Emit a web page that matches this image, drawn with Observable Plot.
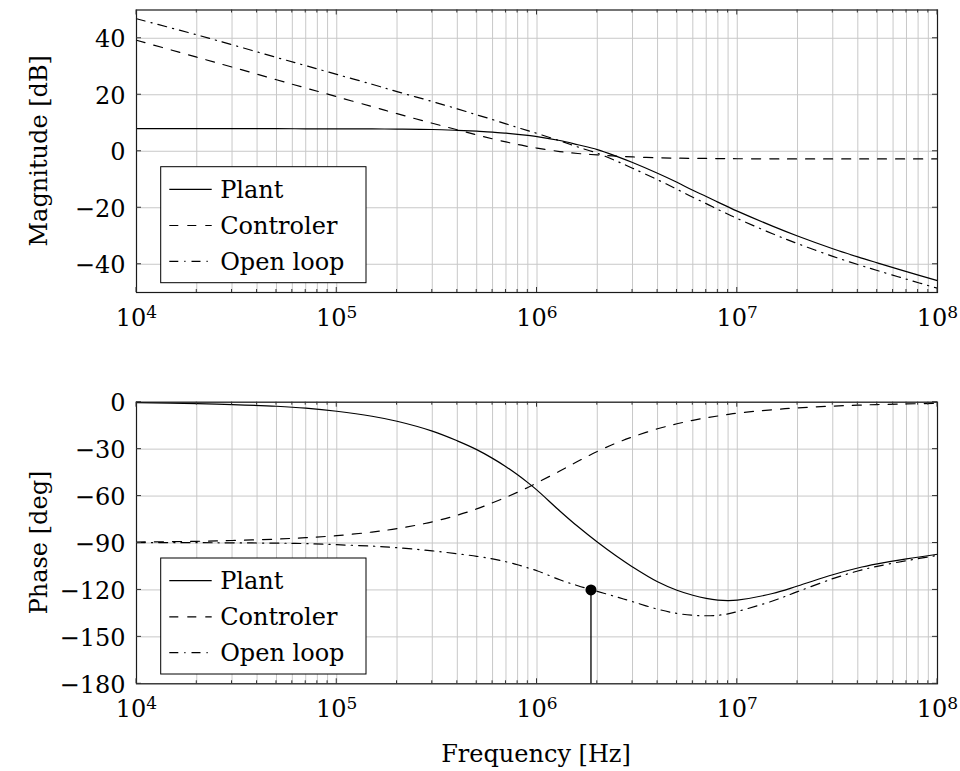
<!DOCTYPE html>
<html>
<head>
<meta charset="utf-8">
<script src="https://cdn.jsdelivr.net/npm/d3@7"></script>
<script src="https://cdn.jsdelivr.net/npm/@observablehq/plot@0.6"></script>
<style>
  body { margin: 0; background: #fff; }
  #chart { position: relative; width: 960px; height: 771px; }
  #chart svg { display: block; }
</style>
</head>
<body>
<div id="chart"></div>
<script>
// ---------- data ----------
const freq = [1e4, 2e4, 3e4, 5e4, 7e4, 1e5, 1.5e5, 2e5, 3e5, 4e5, 5e5, 6e5, 7e5, 8e5, 9e5,
  1e6, 1.3e6, 1.6e6, 2e6, 2.5e6, 3e6, 4e6, 5e6, 6e6, 7e6, 8e6, 9e6,
  1e7, 1.5e7, 2e7, 3e7, 4e7, 5e7, 7e7, 1e8];

const plantMag = [8.0, 8.0, 8.0, 8.0, 7.95, 7.95, 7.9, 7.85, 7.7, 7.4, 7.1, 6.8, 6.4, 6.0, 5.6,
  5.2, 3.8, 2.3, 0.6, -1.8, -4.0, -7.8, -11.0, -13.8, -16.0, -18.0, -19.7,
  -21.2, -26.5, -30.0, -34.5, -37.4, -39.5, -42.6, -45.8];
const controllerMag = [39.3, 33.3, 29.8, 25.3, 22.4, 19.3, 15.8, 13.3, 9.9, 7.6, 5.8, 4.4, 3.3, 2.4, 1.7,
  1.1, -0.1, -0.8, -1.3, -1.7, -2.0, -2.3, -2.45, -2.5, -2.55, -2.6, -2.6,
  -2.65, -2.7, -2.7, -2.7, -2.7, -2.7, -2.7, -2.7];
const openLoopMag = [46.9, 41.2, 37.7, 33.2, 30.3, 27.2, 23.7, 21.1, 17.6, 15.0, 12.9, 11.2, 9.7, 8.4, 7.3,
  6.3, 3.7, 1.5, -0.7, -3.5, -6.0, -10.1, -13.45, -16.3, -18.55, -20.6, -22.3,
  -23.8, -29.2, -32.7, -37.2, -40.1, -42.2, -45.3, -48.5];

const plantPhase = [-0.3, -0.9, -1.5, -2.6, -3.8, -5.8, -9.0, -12.2, -18.5, -24.7, -30.3, -35.9, -41.2, -46.4, -51.4,
  -56.2, -69.5, -79.5, -89.4, -98.5, -105.3, -114.8, -120.2, -123.4, -125.4, -126.5, -126.8,
  -126.5, -122.3, -117.5, -110.3, -106.0, -103.4, -100.2, -97.2];
const controllerPhase = [-89.4, -88.9, -88.4, -87.5, -86.6, -85.3, -83.0, -80.8, -76.5, -72.2, -68.2, -64.3, -60.8, -57.5, -54.5,
  -51.5, -44.0, -37.8, -31.5, -26.0, -22.2, -17.0, -13.8, -11.6, -10.0, -8.8, -7.8,
  -7.0, -4.8, -3.6, -2.5, -1.9, -1.5, -1.1, -0.7];
const openLoopPhase = [-89.7, -89.8, -89.9, -90.1, -90.4, -91.1, -92.0, -93.0, -95.0, -96.9, -98.5, -100.2, -102.0, -103.9, -105.9,
  -107.7, -113.5, -117.3, -120.9, -124.5, -127.5, -132.3, -135.0, -136.2, -136.5, -136.2, -135.3,
  -133.8, -127.1, -121.1, -112.8, -107.9, -104.9, -101.3, -97.9];

// phase-margin marker
const pmFreq = [1.86e6];
const pmPhase = [-120];

const seriesNames = ["Plant", "Controler", "Open loop"];
const xDomain = [1e4, 1e8];
const decadeTicks = [1e4, 1e5, 1e6, 1e7, 1e8];
const magDomain = [-50, 50];
const magTicks = [40, 20, 0, -20, -40];
const phaseDomain = [-180, 0];
const phaseTicks = [0, -30, -60, -90, -120, -150, -180];

// ---------- styles ----------
const FONT = "DejaVu Serif";
const FS = 24;
const SUP = 17;
const dashes = { "Plant": "none", "Controler": "9,9", "Open loop": "9,6,1.2,6" };
const gridColor = "#c8c8c8";

function rows(vals) { return freq.map((f, i) => ({ f, v: vals[i] })); }
const fmtNum = d => d < 0 ? "\u2212" + (-d) : String(d);

function bode({ yDomain, yTicks, vals, height, marginTop, marginBottom, yLabel, pm }) {
  const xGrid = d3.scaleLog().domain(xDomain).ticks();
  const marks = [
    Plot.ruleX(xGrid, { stroke: gridColor, strokeWidth: 1 }),
    Plot.ruleY(yTicks, { stroke: gridColor, strokeWidth: 1 }),
    ...seriesNames.map((s, i) => Plot.line(rows(vals[i]), {
      x: "f", y: "v", stroke: "black", strokeWidth: 1.2,
      strokeDasharray: dashes[s], curve: "catmull-rom"
    }))
  ];
  if (pm) {
    const pmRows = pmFreq.map((f, i) => ({ f, v: pmPhase[i] }));
    marks.push(
      Plot.ruleX(pmRows, { x: "f", y1: "v", y2: () => yDomain[0], stroke: "black", strokeWidth: 1.3 }),
      Plot.dot(pmRows, { x: "f", y: "v", r: 5.5, fill: "black", stroke: "none" })
    );
  }
  marks.push(
    Plot.frame({ stroke: "#1a1a1a", strokeWidth: 1.2 }),
    Plot.axisX(decadeTicks, { tickSize: 0, tickPadding: 16, tickFormat: d => "10^" + Math.round(Math.log10(d)) }),
    Plot.axisY(yTicks, { tickSize: 0, tickPadding: 11, dy: 1.5, tickFormat: fmtNum })
  );
  const svg = Plot.plot({
    width: 960, height, marginLeft: 136, marginRight: 23, marginTop, marginBottom,
    x: { type: "log", domain: xDomain, label: null },
    y: { domain: yDomain, label: null },
    style: { fontFamily: FONT, fontSize: FS + "px", color: "black", background: "white", overflow: "visible" },
    marks
  });

  const xs = svg.scale("x"), ys = svg.scale("y");
  const [x0, x1] = xs.range;
  const yb = ys.apply(yDomain[0]), yt = ys.apply(yDomain[1]);
  const root = d3.select(svg);

  // superscript exponents on x tick labels
  root.selectAll('g[aria-label="x-axis tick label"] text').each(function () {
    const [b, e] = this.textContent.split("^");
    this.textContent = b;
    d3.select(this).append("tspan").attr("dy", "-8px").attr("font-size", SUP + "px").text(e);
  });

  // inward tick marks on all four sides
  const tk = root.append("g").attr("stroke", "#333").attr("stroke-width", 1);
  xGrid.forEach(v => {
    const major = decadeTicks.includes(v);
    const L = major ? 5 : 3;
    const x = xs.apply(v);
    tk.append("line").attr("x1", x).attr("x2", x).attr("y1", yb).attr("y2", yb - L);
    tk.append("line").attr("x1", x).attr("x2", x).attr("y1", yt).attr("y2", yt + L);
  });
  yTicks.forEach(v => {
    const y = ys.apply(v);
    tk.append("line").attr("x1", x0).attr("x2", x0 + 5).attr("y1", y).attr("y2", y);
    tk.append("line").attr("x1", x1).attr("x2", x1 - 5).attr("y1", y).attr("y2", y);
  });

  // y-axis label
  root.append("text")
    .attr("transform", `translate(46.7,${(yb + yt) / 2}) rotate(-90)`)
    .attr("text-anchor", "middle")
    .attr("font-family", FONT).attr("font-size", FS)
    .attr("fill", "black")
    .text(yLabel);

  // legend box (bottom-left inside the frame)
  const lx = x0 + 24.7, lw = 205.3, lh = 116, ly = yb - 9.3 - lh;
  const lg = root.append("g");
  lg.append("rect").attr("x", lx).attr("y", ly).attr("width", lw).attr("height", lh)
    .attr("fill", "white").attr("stroke", "black").attr("stroke-width", 1);
  const rowOffsets = [22.6, 58.8, 94.6];
  seriesNames.forEach((s, i) => {
    const ry = ly + rowOffsets[i];
    lg.append("line").attr("x1", lx + 8.6).attr("x2", lx + 51).attr("y1", ry).attr("y2", ry)
      .attr("stroke", "black").attr("stroke-width", 1.2)
      .attr("stroke-dasharray", dashes[s]);
    lg.append("text").attr("x", lx + 59.5).attr("y", ry + FS * 0.36)
      .attr("text-anchor", "start")
      .attr("font-family", FONT).attr("font-size", FS).attr("fill", "black").text(s);
  });
  return svg;
}

const chartEl = document.getElementById("chart");
const magPlot = bode({
  yDomain: magDomain, yTicks: magTicks,
  vals: [plantMag, controllerMag, openLoopMag],
  height: 342, marginTop: 9.5, marginBottom: 50, yLabel: "Magnitude [dB]", pm: false
});
const phasePlot = bode({
  yDomain: phaseDomain, yTicks: phaseTicks,
  vals: [plantPhase, controllerPhase, openLoopPhase],
  height: 429, marginTop: 59.7, marginBottom: 87.7, yLabel: "Phase [deg]", pm: true
});
chartEl.appendChild(magPlot);
chartEl.appendChild(phasePlot);

// x-axis label under the lower plot
d3.select(phasePlot).append("text")
  .attr("x", 536).attr("y", 429 - 9.3)
  .attr("text-anchor", "middle")
  .attr("font-family", FONT).attr("font-size", FS).attr("fill", "black")
  .text("Frequency [Hz]");
</script>
</body>
</html>
